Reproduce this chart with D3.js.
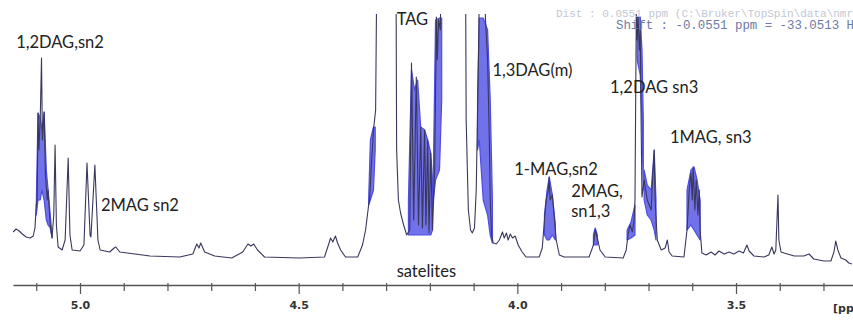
<!DOCTYPE html>
<html>
<head>
<meta charset="utf-8">
<script src="https://cdn.jsdelivr.net/npm/d3@7"></script>
<style>
  html, body { margin: 0; padding: 0; background: #fff; }
  svg { display: block; }
</style>
</head>
<body>
<svg id="chart" width="853" height="320"></svg>
<script>
// spectrum trace (chemical shift in ppm, intensity in arbitrary units)
const shiftPpm = [
  5.153, 5.146, 5.139, 5.132, 5.123, 5.114, 5.107, 5.103, 5.100, 5.098, 5.096, 5.094, 5.091, 5.088, 5.086,
  5.082, 5.079, 5.075, 5.073, 5.068, 5.064, 5.060, 5.057, 5.054, 5.050, 5.041, 5.034, 5.027, 5.023, 5.018,
  5.000, 4.991, 4.984, 4.977, 4.975, 4.966, 4.959, 4.954, 4.932, 4.922, 4.918, 4.909, 4.840, 4.772, 4.742,
  4.733, 4.728, 4.724, 4.715, 4.692, 4.653, 4.628, 4.616, 4.609, 4.603, 4.594, 4.578, 4.498, 4.441, 4.432,
  4.427, 4.422, 4.416, 4.411, 4.404, 4.393, 4.365, 4.354, 4.347, 4.340, 4.338, 4.333, 4.329, 4.324, 4.320,
  4.278, 4.276, 4.272, 4.267, 4.260, 4.253, 4.246, 4.242, 4.237, 4.231, 4.226, 4.221, 4.217, 4.212, 4.209,
  4.205, 4.202, 4.198, 4.194, 4.189, 4.185, 4.183, 4.180, 4.176, 4.173, 4.164, 4.119, 4.117, 4.112, 4.107,
  4.103, 4.098, 4.094, 4.089, 4.084, 4.078, 4.073, 4.068, 4.064, 4.062, 4.059, 4.055, 4.048, 4.041, 4.034,
  4.030, 4.025, 4.021, 4.016, 4.011, 4.005, 3.998, 3.989, 3.980, 3.950, 3.943, 3.938, 3.934, 3.929, 3.927,
  3.925, 3.920, 3.915, 3.911, 3.904, 3.893, 3.836, 3.826, 3.822, 3.817, 3.811, 3.799, 3.758, 3.751, 3.747,
  3.742, 3.737, 3.733, 3.731, 3.728, 3.726, 3.724, 3.721, 3.719, 3.717, 3.715, 3.710, 3.703, 3.694, 3.692,
  3.687, 3.685, 3.680, 3.671, 3.662, 3.657, 3.653, 3.646, 3.619, 3.612, 3.607, 3.603, 3.600, 3.598, 3.594,
  3.591, 3.587, 3.584, 3.582, 3.578, 3.568, 3.557, 3.548, 3.539, 3.527, 3.516, 3.505, 3.493, 3.483, 3.475,
  3.470, 3.459, 3.436, 3.425, 3.418, 3.413, 3.409, 3.404, 3.402, 3.397, 3.390, 3.367, 3.345, 3.333, 3.322,
  3.299, 3.283, 3.276, 3.272, 3.267, 3.260, 3.249, 3.242, 3.235
];
const intensity = [
  28, 31, 29, 26, 23, 22, 24, 32, 55, 60, 147, 110, 140, 202, 120,
  148, 85, 60, 70, 35, 22, 45, 115, 35, 13, 10, 20, 102, 25, 10,
  9, 15, 97, 25, 23, 95, 20, 10, 8, 12, 13, 8, 4, 3, 6,
  16, 12, 17, 8, 4, 2, 8, 16, 14, 16, 10, 3, 2, 3, 15,
  22, 18, 24, 17, 10, 3, 3, 15, 30, 55, 60, 100, 130, 150, 360,
  360, 110, 60, 47, 35, 25, 30, 197, 40, 183, 35, 133, 32, 130, 35,
  120, 27, 107, 30, 90, 243, 200, 240, 230, 360, 360, 360, 140, 50, 30,
  27, 32, 70, 200, 360, 360, 242, 200, 120, 60, 25, 17, 16, 20, 28,
  22, 27, 20, 26, 22, 24, 15, 8, 3, 3, 12, 40, 60, 70, 83,
  60, 65, 40, 20, 5, 3, 3, 15, 30, 22, 10, 3, 2, 10, 25,
  35, 28, 40, 60, 246, 220, 243, 210, 230, 140, 63, 80, 60, 50, 70,
  110, 60, 20, 10, 12, 20, 8, 4, 3, 30, 70, 87, 60, 93, 50,
  80, 45, 70, 30, 7, 5, 8, 5, 9, 6, 8, 6, 9, 7, 15,
  9, 4, 3, 5, 13, 6, 10, 65, 20, 8, 7, 4, 4, 6, 1,
  -1, -1, 8, 19, 10, 2, 0, -3, -4
];

// dense multiplet envelopes: [ppm, upper, lower]
const multiplets = [
  [[5.100, 55, 45], [5.096, 147, 60], [5.091, 142, 60], [5.087, 130, 70], [5.082, 148, 60], [5.077, 90, 40], [5.073, 70, 35], [5.068, 45, 32], [5.064, 25, 22]],
  [[4.340, 60, 55], [4.336, 120, 60], [4.329, 133, 70], [4.325, 133, 110]],
  [[4.249, 60, 25], [4.242, 190, 25], [4.235, 170, 25], [4.228, 180, 25], [4.221, 133, 25], [4.212, 130, 25], [4.205, 120, 25], [4.198, 107, 25], [4.194, 80, 30]],
  [[4.192, 90, 60], [4.187, 240, 80], [4.178, 242, 90], [4.173, 242, 160]],
  [[4.091, 160, 110], [4.087, 242, 120], [4.078, 242, 60], [4.068, 230, 45], [4.062, 160, 25], [4.057, 60, 17]],
  [[3.938, 45, 25], [3.932, 70, 20], [3.927, 83, 20], [3.920, 65, 25], [3.913, 35, 20]],
  [[3.826, 25, 15], [3.822, 32, 15], [3.817, 25, 15]],
  [[3.749, 30, 20], [3.740, 38, 22], [3.731, 55, 25]],
  [[3.726, 243, 200], [3.719, 243, 185], [3.715, 210, 140], [3.712, 140, 70]],
  [[3.710, 90, 60], [3.703, 75, 45], [3.694, 70, 40], [3.687, 110, 30], [3.683, 60, 20]],
  [[3.612, 70, 30], [3.603, 90, 35], [3.596, 93, 30], [3.589, 80, 25], [3.582, 60, 20]]
];

const majorTicks = [5.0, 4.5, 4.0, 3.5];
const minorTicks = [5.1, 4.9, 4.8, 4.7, 4.6, 4.4, 4.3, 4.2, 4.1, 3.9, 3.8, 3.7, 3.6, 3.4, 3.3];
const unitLabel = "[ppm]";

// peak annotations: text, ppm of left edge, intensity of baseline
const labelText = ["1,2DAG,sn2", "TAG", "1,3DAG(m)", "1,2DAG sn3", "1MAG, sn3", "2MAG sn2", "1-MAG,sn2", "2MAG,", "sn1,3", "satelites"];
const labelPpm = [5.146, 4.276, 4.057, 3.788, 3.651, 4.952, 4.007, 3.877, 3.877, 4.276];
const labelLevel = [212, 235, 184, 167, 117, 49, 85, 63, 43, -17];

const statusText = ["Dist : 0.0551 ppm   (C:\\Bruker\\TopSpin\\data\\nmr\\", "Shift : -0.0551 ppm = -33.0513 Hz"];

const width = 853, height = 320;
const svg = d3.select("#chart");

const x = d3.scaleLinear().domain([5.0, 3.5]).range([80, 736]);
const y = d3.scaleLinear().domain([0, 248]).range([260, 12]);

svg.append("defs").append("clipPath").attr("id", "plotClip")
  .append("rect").attr("x", 0).attr("y", 14).attr("width", width).attr("height", 272);

const plot = svg.append("g").attr("clip-path", "url(#plotClip)");

// blue dense multiplets
const band = d3.area()
  .x(d => x(d[0]))
  .y0(d => y(d[2]))
  .y1(d => y(d[1]));

plot.append("g")
  .selectAll("path")
  .data(multiplets)
  .join("path")
  .attr("d", band)
  .attr("fill", "#4d4de4")
  .attr("fill-opacity", 0.8)
  .attr("stroke", "#4d4de4")
  .attr("stroke-width", 1.2)
  .attr("stroke-linejoin", "round");

// spectrum trace
const points = d3.zip(shiftPpm, intensity);
const line = d3.line().x(d => x(d[0])).y(d => y(d[1]));

plot.append("path")
  .datum(points)
  .attr("d", line)
  .attr("fill", "none")
  .attr("stroke", "#38385e")
  .attr("stroke-width", 1.1)
  .attr("stroke-linejoin", "round");

// axis
const axisScale = x.copy().domain([x.invert(13), x.invert(width)]).range([13, width]);
const axisY = 285;

const minorAxis = d3.axisBottom(axisScale)
  .tickValues(minorTicks)
  .tickSize(6)
  .tickSizeOuter(0)
  .tickFormat("");

const majorAxis = d3.axisBottom(axisScale)
  .tickValues(majorTicks)
  .tickSize(9)
  .tickSizeOuter(0)
  .tickPadding(7)
  .tickFormat(d3.format(".1f"));

const gMinor = svg.append("g").attr("transform", `translate(0,${axisY})`).call(minorAxis);
gMinor.select(".domain").attr("stroke", "#555").attr("stroke-width", 1.5);
gMinor.selectAll(".tick line").attr("stroke", "#555").attr("stroke-width", 1.2).attr("y1", -2);

const gMajor = svg.append("g").attr("transform", `translate(0,${axisY})`).call(majorAxis);
gMajor.select(".domain").remove();
gMajor.selectAll(".tick line").attr("stroke", "#555").attr("stroke-width", 1.2).attr("y1", -2);
gMajor.selectAll(".tick text")
  .attr("fill", "#333")
  .attr("style", "font-family: 'DejaVu Sans', sans-serif; font-size: 11px; font-weight: bold;");

svg.append("text")
  .attr("x", 833)
  .attr("y", axisY + 27)
  .attr("fill", "#333")
  .attr("style", "font-family: 'DejaVu Sans', sans-serif; font-size: 11px; font-weight: bold;")
  .text(unitLabel);

// status overlay text
svg.append("text")
  .attr("x", 556).attr("y", 17)
  .attr("fill", "#c2c8d4")
  .attr("style", "font-family: 'Liberation Mono', monospace; font-size: 11px;")
  .text(statusText[0]);

svg.append("text")
  .attr("x", 616).attr("y", 29)
  .attr("fill", "#6c7aa6")
  .attr("style", "font-family: 'Liberation Mono', monospace; font-size: 12.4px;")
  .text(statusText[1]);

// peak labels
svg.append("g")
  .selectAll("text")
  .data(labelText)
  .join("text")
  .attr("x", (d, i) => x(labelPpm[i]))
  .attr("y", (d, i) => y(labelLevel[i]))
  .attr("fill", "#222")
  .attr("style", "font-family: Lato, 'Open Sans', sans-serif; font-size: 16.5px;")
  .text(d => d);
</script>
</body>
</html>
